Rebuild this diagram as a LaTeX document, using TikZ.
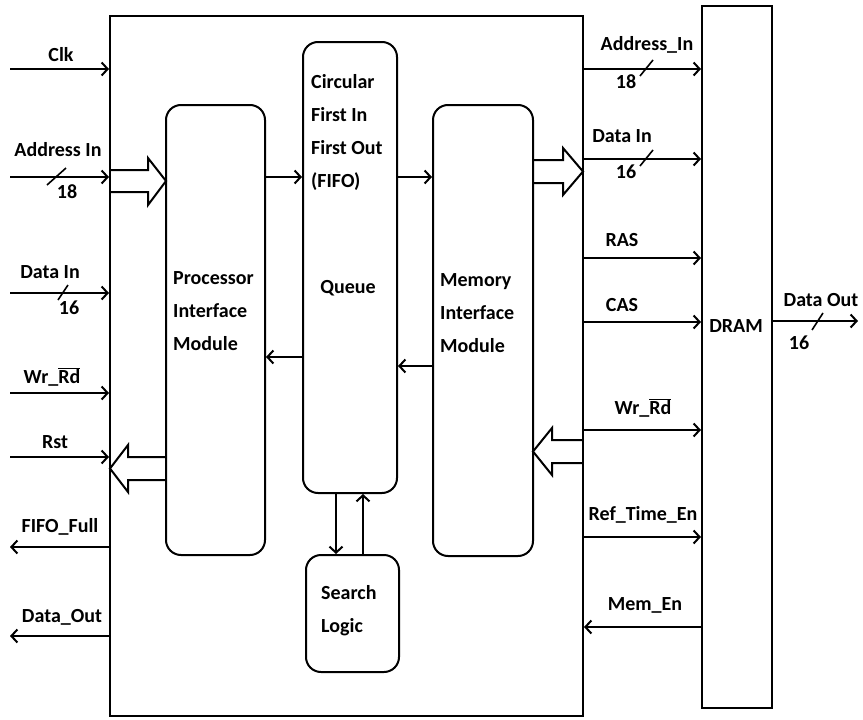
\documentclass[tikz,border=0pt]{standalone}
\usepackage{fontspec}
\setmainfont{Carlito}
\usetikzlibrary{arrows.meta}
\begin{document}
\begin{tikzpicture}[x=1pt,y=-1pt,
  box/.style={draw, line width=2pt, rounded corners=15pt, inner sep=0pt},
  plainbox/.style={draw, line width=2pt, inner sep=0pt},
  sig/.style={line width=2pt, -{Straight Barb[length=6pt,width=13pt]}},
  lab/.style={font=\fontsize{20}{33}\selectfont\bfseries, inner sep=0pt},
  bus/.style={line width=1.6pt},
  hollow/.style={line width=2pt, line join=miter}]
\useasboundingbox (0,0) rectangle (863,720);

% boxes
\node[plainbox, minimum width=473pt, minimum height=700pt] (outer) at (346.5,366) {};
\node[plainbox, minimum width=70pt, minimum height=702pt] (dram) at (737,357) {};
\node[box, minimum width=99pt, minimum height=450pt] (proc) at (215.5,330) {};
\node[box, minimum width=94pt, minimum height=451pt] (fifo) at (350,267.5) {};
\node[box, minimum width=100pt, minimum height=451pt] (mem) at (483,330.5) {};
\node[box, minimum width=93pt, minimum height=117pt] (search) at (352.5,613.5) {};

% box texts
\node[lab] (dramlab) at (736,326) {DRAM};
\node[lab, align=left, anchor=west] (proctxt) at (173,311) {Processor\\Interface\\Module};
\node[lab, align=left, anchor=west] (fifotxt) at (311,132) {Circular\\First In\\First Out\\(FIFO)};
\node[lab] (queue) at (348,288) {Queue};
\node[lab, align=left, anchor=west] (memtxt) at (440,313) {Memory\\Interface\\Module};
\node[lab, align=left, anchor=west] (searchtxt) at (321,611) {Search\\Logic};

% left side signals
\coordinate (clkS) at (10,69);
\coordinate (adS) at (10,177);
\coordinate (diS) at (10,293);
\coordinate (wrS) at (10,393);
\coordinate (rstS) at (10,457);
\coordinate (ffE) at (10,547);
\coordinate (doE) at (10,636);
\draw[sig] (clkS) -- (clkS -| outer.west);
\draw[sig] (adS) -- (adS -| outer.west);
\draw[sig] (diS) -- (diS -| outer.west);
\draw[sig] (wrS) -- (wrS -| outer.west);
\draw[sig] (rstS) -- (rstS -| outer.west);
\draw[sig] (ffE -| outer.west) -- (ffE);
\draw[sig] (doE -| outer.west) -- (doE);
\draw[bus] (47,185) -- (66,168);
\draw[bus] (58,300) -- (68,285);

\node[lab] (clkL) at (61,55) {Clk};
\node[lab] (adL) at (58,150) {Address In};
\node[lab] (ad18) at (67,192) {18};
\node[lab] (diL) at (50,272) {Data In};
\node[lab] (di16) at (69,308) {16};
\node[lab] (wrL) at (52,377) {Wr\_$\overline{\mbox{Rd}}$};
\node[lab] (rstL) at (55,442) {Rst};
\node[lab] (ffL) at (60,527) {FIFO\_Full};
\node[lab] (doL) at (62,617) {Data\_Out};

% hollow bus arrows
\draw[hollow] (110,170) -- (148,170) -- (148,158) -- (166,181) -- (148,205) -- (148,192) -- (110,192);
\draw[hollow] (166,457) -- (128,457) -- (128,445) -- (110,468.5) -- (128,492) -- (128,480) -- (166,480);
\draw[hollow] (533,160) -- (563,160) -- (563,148) -- (583,171.5) -- (563,195) -- (563,183) -- (533,183);
\draw[hollow] (583,440) -- (552,440) -- (552,428) -- (533,451.5) -- (552,475) -- (552,463) -- (583,463);

% internal connectors
\coordinate (yTop) at (0,177);
\coordinate (yFP) at (0,357);
\coordinate (yMF) at (0,366);
\coordinate (xDown) at (336,0);
\coordinate (xUp) at (363,0);
\draw[sig] (proc.east |- yTop) -- (fifo.west |- yTop);
\draw[sig] (fifo.east |- yTop) -- (mem.west |- yTop);
\draw[sig] (fifo.west |- yFP) -- (proc.east |- yFP);
\draw[sig] (mem.west |- yMF) -- (fifo.east |- yMF);
\draw[sig] (fifo.south -| xDown) -- (search.north -| xDown);
\draw[sig] (search.north -| xUp) -- (fifo.south -| xUp);

% right side signals
\coordinate (rAd) at (0,69);
\coordinate (rDi) at (0,159);
\coordinate (rRas) at (0,258);
\coordinate (rCas) at (0,322);
\coordinate (rWr) at (0,430);
\coordinate (rRef) at (0,537);
\coordinate (rMem) at (0,627);
\coordinate (dOut) at (858,321);
\draw[sig] (outer.east |- rAd) -- (dram.west |- rAd);
\draw[sig] (outer.east |- rDi) -- (dram.west |- rDi);
\draw[sig] (outer.east |- rRas) -- (dram.west |- rRas);
\draw[sig] (outer.east |- rCas) -- (dram.west |- rCas);
\draw[sig] (outer.east |- rWr) -- (dram.west |- rWr);
\draw[sig] (outer.east |- rRef) -- (dram.west |- rRef);
\draw[sig] (dram.west |- rMem) -- (outer.east |- rMem);
\draw[sig] (dram.east |- dOut) -- (dOut);
\draw[bus] (640,76) -- (653,60);
\draw[bus] (640,166) -- (653,150);
\draw[bus] (812,330) -- (823,313);

\node[lab] (radL) at (647,45) {Address\_In};
\node[lab] (rad18) at (626,82) {18};
\node[lab] (rdiL) at (622,136) {Data In};
\node[lab] (rdi16) at (626,172) {16};
\node[lab] (rasL) at (622,240) {RAS};
\node[lab] (casL) at (622,305) {CAS};
\node[lab] (rwrL) at (643,408) {Wr\_$\overline{\mbox{Rd}}$};
\node[lab] (refL) at (643,515) {Ref\_Time\_En};
\node[lab] (memenL) at (645,605) {Mem\_En};
\node[lab] (doutL) at (821,300) {Data Out};
\node[lab] (dout16) at (799,343) {16};
\end{tikzpicture}
\end{document}
